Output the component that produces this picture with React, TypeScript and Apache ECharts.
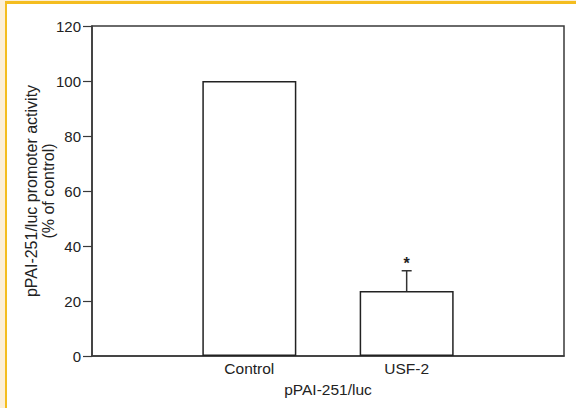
import React, { useEffect, useRef } from "react";
import * as echarts from "echarts";

const categories = ["Control", "USF-2"];
const means = [100, 23.6];
const sems = [0, 7.4];
const significant = [false, true];
const yTicks = { min: 0, max: 120, interval: 20 };
const xAxisTitle = "pPAI-251/luc";
const yAxisTitle = "pPAI-251/luc promoter activity\n(% of control)";

const FONT = "Arial, 'Liberation Sans', Helvetica, sans-serif";
const FS = 15.5;

export default function App() {
  const ref = useRef<HTMLDivElement>(null);

  useEffect(() => {
    if (!ref.current) return;
    const chart = echarts.init(ref.current, undefined, { renderer: "svg" });

    // pad categories so bars sit at 1/3 and 2/3 of the axis
    const axisCats = ["", ...categories, ""];
    const barData = [null, ...means, null];
    const errData = categories.map((c, i) => [i + 1, means[i], means[i] + sems[i], significant[i] ? 1 : 0]);

    chart.setOption({
      animation: false,
      backgroundColor: "transparent",
      textStyle: { fontFamily: FONT },
      grid: {
        left: 92,
        top: 26,
        width: 472,
        height: 330,
        show: true,
        borderColor: "#3a3a3a",
        borderWidth: 1.5,
        backgroundColor: "transparent",
      },
      xAxis: {
        type: "category",
        data: axisCats,
        boundaryGap: false,
        axisTick: { show: false },
        axisLine: { show: true, lineStyle: { color: "#3a3a3a", width: 1.5 } },
        axisLabel: { color: "#222", fontSize: FS, fontFamily: FONT, margin: 4, interval: 0 },
        splitLine: { show: false },
        name: xAxisTitle,
        nameLocation: "middle",
        nameGap: 25,
        nameMoveOverlap: false,
        nameTextStyle: { color: "#222", fontSize: FS, fontFamily: FONT },
      },
      yAxis: {
        type: "value",
        min: yTicks.min,
        max: yTicks.max,
        interval: yTicks.interval,
        axisLine: { show: true, lineStyle: { color: "#3a3a3a", width: 1.5 } },
        axisTick: { show: true, length: 9, lineStyle: { color: "#3a3a3a", width: 1.2 } },
        axisLabel: { color: "#222", fontSize: 15, fontFamily: FONT, margin: 11 },
        splitLine: { show: false },
        name: yAxisTitle,
        nameLocation: "middle",
        nameGap: 35,
        nameMoveOverlap: false,
        nameTextStyle: { color: "#222", fontSize: 16, fontFamily: FONT, lineHeight: 17, align: "center" },
      },
      series: [
        {
          type: "bar",
          data: barData,
          barWidth: 94,
          itemStyle: { color: "#ffffff", borderColor: "#222", borderWidth: 1.5 },
          z: 2,
        },
        {
          type: "custom",
          data: errData,
          z: 3,
          renderItem: (params: any, api: any) => {
            const idx = api.value(0);
            const m = api.value(1);
            const hi = api.value(2);
            const sig = api.value(3);
            const pBase = api.coord([idx, m]);
            const pTop = api.coord([idx, hi]);
            const children: any[] = [];
            if (hi > m) {
              children.push({
                type: "line",
                shape: { x1: pBase[0], y1: pBase[1], x2: pTop[0], y2: pTop[1] },
                style: { stroke: "#333", lineWidth: 1.5 },
              });
              children.push({
                type: "line",
                shape: { x1: pTop[0] - 5, y1: pTop[1], x2: pTop[0] + 5, y2: pTop[1] },
                style: { stroke: "#333", lineWidth: 1.5 },
              });
            }
            if (sig) {
              children.push({
                type: "text",
                x: pTop[0],
                y: pTop[1] + 1,
                style: {
                  text: "*",
                  fontSize: 16,
                  fontFamily: FONT,
                  fontWeight: "bold",
                  fill: "#222",
                  align: "center",
                  verticalAlign: "bottom",
                },
              });
            }
            return { type: "group", children };
          },
        },
      ],
    });

    return () => chart.dispose();
  }, []);

  return (
    <div style={{ position: "fixed", left: 0, top: 0, width: 576, height: 408, background: "#FCEFD6", overflow: "hidden" }}>
      <div
        style={{
          position: "absolute",
          left: 5,
          top: 1,
          width: 600,
          height: 500,
          background: "#ffffff",
          borderLeft: "2px solid #F4BD1F",
          borderTop: "3px solid #F4BD1F",
        }}
      />
      <div ref={ref} style={{ position: "absolute", left: 0, top: 0, width: 576, height: 408 }} />
    </div>
  );
}
